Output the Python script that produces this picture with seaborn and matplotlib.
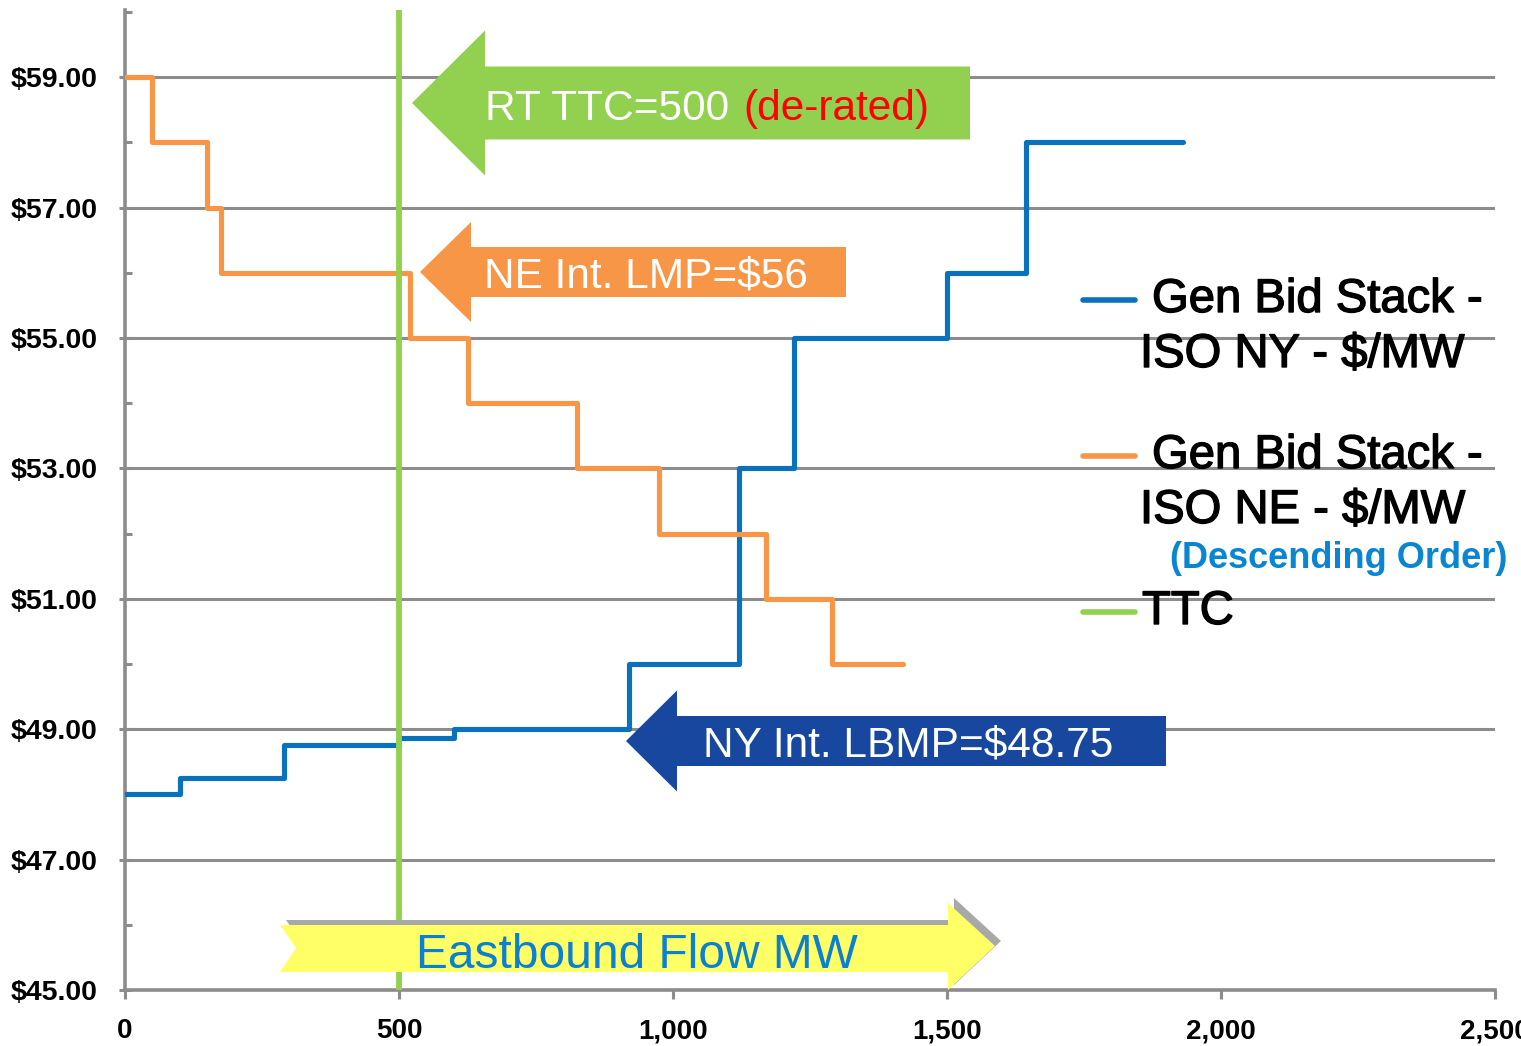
import matplotlib
matplotlib.use("Agg")
import matplotlib.pyplot as plt
import matplotlib.patheffects as pe
import numpy as np
import pandas as pd
import seaborn as sns
from matplotlib.patches import Polygon
from matplotlib.lines import Line2D
from matplotlib.ticker import FixedLocator, FuncFormatter

# ---------------- data ----------------
ny_mw = [0, 100, 290, 500, 600, 920, 1120, 1220, 1500, 1645, 1930]
ny_price = [48.0, 48.25, 48.75, 48.87, 49.0, 50.0, 53.0, 55.0, 56.0, 58.0, 58.0]
ne_mw = [0, 50, 150, 175, 520, 625, 825, 975, 1170, 1290, 1420]
ne_price = [59.0, 58.0, 57.0, 56.0, 55.0, 54.0, 53.0, 52.0, 51.0, 50.0, 50.0]
ttc_mw = 500
x_ticks = [0, 500, 1000, 1500, 2000, 2500]
y_major = [45, 47, 49, 51, 53, 55, 57, 59]
y_minor = [46, 48, 50, 52, 54, 56, 58, 60]
legend_line1 = ["Gen Bid Stack -", "Gen Bid Stack -", "TTC"]
legend_line2 = ["ISO NY - $/MW", "ISO NE - $/MW", ""]
legend_note = "(Descending Order)"
ann_ttc = ("RT TTC=500", "(de-rated)")
ann_ne = "NE Int. LMP=$56"
ann_ny = "NY Int. LBMP=$48.75"
ann_flow = "Eastbound Flow MW"

C_NY = "#0a72bc"
C_NE = "#f79646"
C_TTC = "#92d050"
C_GRID = "#8c8c8c"

sns.set_theme(style="white")
plt.rcParams["font.family"] = ["Liberation Sans", "DejaVu Sans"]

fig = plt.figure(figsize=(15.21, 10.46), dpi=100)
W, H = 1521, 1046
ax = fig.add_axes([125 / W, 1 - 990 / H, (1495 - 125) / W, (990 - 10) / H])

ny_df = pd.DataFrame({"MW": ny_mw, "Price": ny_price})
ne_df = pd.DataFrame({"MW": ne_mw, "Price": ne_price})

sns.lineplot(data=ny_df, x="MW", y="Price", ax=ax, color=C_NY, lw=3.7,
             drawstyle="steps-post", estimator=None, sort=False,
             solid_joinstyle="round", solid_capstyle="round", zorder=4)
sns.lineplot(data=ne_df, x="MW", y="Price", ax=ax, color=C_NE, lw=3.7,
             drawstyle="steps-post", estimator=None, sort=False,
             solid_joinstyle="round", solid_capstyle="round", zorder=4)
ax.axvline(ttc_mw, color=C_TTC, lw=4.2, zorder=5)

ax.set_xlim(0, 2500)
ax.set_ylim(45, 60.03)
ax.set_xlabel("")
ax.set_ylabel("")

ax.xaxis.set_major_locator(FixedLocator(x_ticks))
ax.xaxis.set_major_formatter(FuncFormatter(lambda v, p: f"{int(v):,}"))
ax.yaxis.set_major_locator(FixedLocator(y_major))
ax.yaxis.set_minor_locator(FixedLocator(y_minor))
ax.yaxis.set_major_formatter(FuncFormatter(lambda v, p: f"${v:.2f}"))

for s in ["top", "right"]:
    ax.spines[s].set_visible(False)
for s in ["left", "bottom"]:
    ax.spines[s].set_color(C_GRID)
    ax.spines[s].set_linewidth(2.6)

ax.yaxis.grid(True, which="major", color=C_GRID, lw=2.2, zorder=1)
ax.xaxis.grid(False)
ax.set_axisbelow(True)

ax.tick_params(axis="x", which="major", direction="out", length=6.5, width=2.2,
               color=C_GRID, pad=14, labelsize=20, bottom=True)
ax.tick_params(axis="y", which="major", direction="inout", length=9, width=2.2,
               color=C_GRID, pad=15.5, labelsize=20.5, left=True)
ax.tick_params(axis="y", which="minor", direction="in", length=5, width=2.2,
               color=C_GRID, left=True)
for lab in ax.get_xticklabels() + ax.get_yticklabels():
    lab.set_fontweight("bold")
    lab.set_color("black")


# ---------------- block arrows ----------------
def px2data(px, py):
    return (px - 125) / 0.548, 45 + (990 - py) / ((990 - 10) / 15.03)


def left_arrow(tip, head_x, head_half, body_half, tail_x, color):
    tx, ty = tip
    verts = [(tx, ty), (head_x, ty + head_half), (head_x, ty + body_half),
             (tail_x, ty + body_half), (tail_x, ty - body_half),
             (head_x, ty - body_half), (head_x, ty - head_half)]
    ax.add_patch(Polygon(verts, closed=True, facecolor=color, edgecolor="none",
                         zorder=8, clip_on=False))


def arrow_px(tip_px, head_px, head_top, head_bot, body_top, body_bot, tail_px, color):
    tx, ty = px2data(*tip_px)
    hx, _ = px2data(head_px, 0)
    _, ht = px2data(0, head_top)
    _, hb = px2data(0, head_bot)
    _, bt = px2data(0, body_top)
    _, bb = px2data(0, body_bot)
    tlx, _ = px2data(tail_px, 0)
    left_arrow((tx, ty), hx, (ht - hb) / 2, (bt - bb) / 2, tlx, color)


arrow_px((412, 103), 485, 30, 175, 67, 140, 970, C_TTC)
tx, ty = px2data(485, 120)
t1 = ax.text(tx, ty, ann_ttc[0], color="white", fontsize=30.5, ha="left",
             va="baseline", zorder=9)
ax.annotate(ann_ttc[1], xy=(1, 0), xycoords=t1, xytext=(10.5, 0),
            textcoords="offset points", ha="left", va="bottom",
            color="#ff0000", fontsize=30.5, zorder=9)

arrow_px((420, 272), 471, 220, 320, 246, 296, 846, C_NE)
tx, ty = px2data(484, 288)
ax.text(tx, ty, ann_ne, color="white", fontsize=30.5, ha="left",
        va="baseline", zorder=9)

arrow_px((626, 741), 677, 690, 791, 716, 766, 1166, "#17479e")
tx, ty = px2data(703, 757)
ax.text(tx, ty, ann_ny, color="white", fontsize=30.5, ha="left",
        va="baseline", zorder=9)

# yellow right-pointing flow arrow with shadow
flow_px = [(280, 925), (948, 925), (948, 903), (995, 946), (948, 990),
           (948, 972), (280, 972), (296, 948)]
flow = [px2data(*p) for p in flow_px]
shadow = [px2data(p[0] + 6, p[1] - 5) for p in flow_px]
ax.add_patch(Polygon(shadow, closed=True, facecolor="#a8a8a8", edgecolor="none",
                     zorder=7, clip_on=False))
ax.add_patch(Polygon(flow, closed=True, facecolor="#ffff66", edgecolor="none",
                     zorder=8, clip_on=False))
fx, fy = px2data(637, 968)
ax.text(fx, fy, ann_flow, color="#0a80d0", fontsize=34.5, ha="center",
        va="baseline", zorder=9)

# ---------------- legend (manual) ----------------
stroke = [pe.withStroke(linewidth=1.0, foreground="black")]
leg_colors = [C_NY, C_NE, C_TTC]
leg_y = [300, 456, 612]
for col, y, l1, l2 in zip(leg_colors, leg_y, legend_line1, legend_line2):
    fig.add_artist(Line2D([1083 / W, 1135 / W], [1 - y / H, 1 - y / H],
                          color=col, lw=4, solid_capstyle="round"))
    x1 = 1152 if l2 else 1142
    fig.text(x1 / W, 1 - y / H, l1, fontsize=34, color="black", ha="left",
             va="center", path_effects=stroke)
    if l2:
        fig.text(1140 / W, 1 - (y + 55) / H, l2, fontsize=34, color="black",
                 ha="left", va="center", path_effects=stroke)
fig.text(1170 / W, 1 - 558 / H, legend_note, fontsize=26, color="#0a85d0",
         fontweight="bold", ha="left", va="center")

fig.savefig("out.png", dpi=100)
